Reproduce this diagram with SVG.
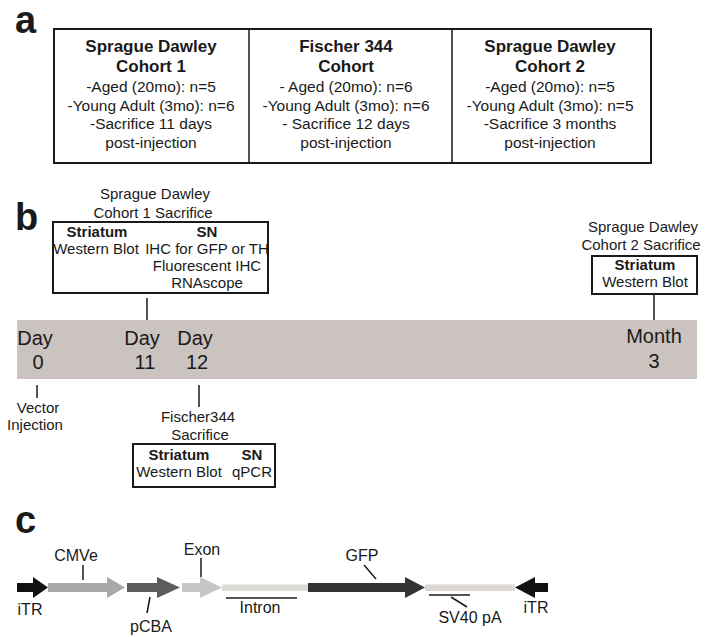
<svg xmlns="http://www.w3.org/2000/svg" width="705" height="637" viewBox="0 0 705 637">
<style>
text{font-family:"Liberation Sans",Arial,sans-serif;fill:#1a1a1a}
.pl{font-size:38px;font-weight:bold}
.h{font-size:17px;font-weight:bold;text-anchor:middle}
.t{font-size:15.5px;text-anchor:middle}
.s{font-size:15px;text-anchor:middle}
.sb{font-size:15px;font-weight:bold;text-anchor:middle}
.d{font-size:20px;text-anchor:middle}
.c{font-size:16px;text-anchor:middle}
.box{fill:#fff;stroke:#1a1a1a;stroke-width:2}
.ln{stroke:#1a1a1a;stroke-width:1.5;fill:none}
</style>
<rect width="705" height="637" fill="#fff"/>

<!-- Panel a -->
<text class="pl" x="15" y="33">a</text>
<g id="cohort-table">
<rect class="box" x="54" y="29" width="597" height="134"/>
<line class="ln" x1="249" y1="29" x2="249" y2="163" stroke-width="2"/>
<line class="ln" x1="452" y1="29" x2="452" y2="163" stroke-width="2"/>
</g>
<g id="sd-cohort1">
<text class="h" x="151" y="52">Sprague Dawley</text>
<text class="h" x="151" y="72">Cohort 1</text>
<text class="t" x="151" y="92">-Aged (20mo): n=5</text>
<text class="t" x="151" y="111">-Young Adult (3mo): n=6</text>
<text class="t" x="151" y="129">-Sacrifice 11 days</text>
<text class="t" x="151" y="148">post-injection</text>
</g>
<g id="f344-cohort">
<text class="h" x="346" y="52">Fischer 344</text>
<text class="h" x="346" y="72">Cohort</text>
<text class="t" x="346" y="92">- Aged (20mo): n=6</text>
<text class="t" x="346" y="111">-Young Adult (3mo): n=6</text>
<text class="t" x="346" y="129">- Sacrifice 12 days</text>
<text class="t" x="346" y="148">post-injection</text>
</g>
<g id="sd-cohort2">
<text class="h" x="550" y="52">Sprague Dawley</text>
<text class="h" x="550" y="72">Cohort 2</text>
<text class="t" x="550" y="92">-Aged (20mo): n=5</text>
<text class="t" x="550" y="111">-Young Adult (3mo): n=5</text>
<text class="t" x="550" y="129">-Sacrifice 3 months</text>
<text class="t" x="550" y="148">post-injection</text>
</g>

<!-- Panel b -->
<text class="pl" x="15" y="230">b</text>
<g id="timeline">
<rect x="17" y="320" width="680" height="59" fill="#cbc3bf"/>
<text class="d" x="35" y="345">Day</text>
<text class="d" x="38" y="369">0</text>
<text class="d" x="142" y="345">Day</text>
<text class="d" x="145" y="369">11</text>
<text class="d" x="195" y="345">Day</text>
<text class="d" x="197" y="369">12</text>
<text class="d" x="654" y="343">Month</text>
<text class="d" x="654" y="368">3</text>
</g>
<g id="sd1-sacrifice">
<text class="s" x="155" y="199">Sprague Dawley</text>
<text class="s" x="153" y="218">Cohort 1 Sacrifice</text>
<rect class="box" x="53" y="222" width="215" height="71"/>
<text class="sb" x="97" y="237">Striatum</text>
<text class="sb" x="207" y="237">SN</text>
<text class="s" x="96" y="254">Western Blot</text>
<text class="s" x="207" y="254">IHC for GFP or TH</text>
<text class="s" x="207" y="271">Fluorescent IHC</text>
<text class="s" x="207" y="288">RNAscope</text>
</g>
<g id="sd2-sacrifice">
<text class="s" x="643" y="232">Sprague Dawley</text>
<text class="s" x="641" y="250">Cohort 2 Sacrifice</text>
<rect class="box" x="592" y="256" width="105" height="38"/>
<text class="sb" x="645" y="270">Striatum</text>
<text class="s" x="645" y="287">Western Blot</text>
</g>
<g id="vector-injection">
<text class="s" x="38" y="413">Vector</text>
<text class="s" x="35" y="430">Injection</text>
</g>
<g id="f344-sacrifice">
<text class="s" x="198" y="422">Fischer344</text>
<text class="s" x="200" y="440">Sacrifice</text>
<rect class="box" x="133" y="444" width="142" height="43"/>
<text class="sb" x="179" y="460">Striatum</text>
<text class="sb" x="252" y="460">SN</text>
<text class="s" x="179" y="477">Western Blot</text>
<text class="s" x="252" y="477">qPCR</text>
</g>

<!-- Panel c -->
<text class="pl" x="15" y="533">c</text>
<g id="construct">
<path d="M17,583 H33 V577 L48,587.5 L33,598 V592 H17 Z" fill="#111"/>
<path d="M48,583 H107 V577 L125,587.5 L107,598 V592 H48 Z" fill="#a9a9a9"/>
<path d="M127,583 H157 V577 L180,587.5 L157,598 V592 H127 Z" fill="#5c5c5c"/>
<path d="M182,583 H200 V577 L222,587.5 L200,598 V592 H182 Z" fill="#c6c6c6"/>
<rect x="222" y="584.5" width="86" height="6.5" fill="#dadad6"/>
<path d="M308,583 H405 V577 L425,587.5 L405,598 V592 H308 Z" fill="#333"/>
<rect x="425" y="584.5" width="90" height="6.5" fill="#dcd8d2"/>
<path d="M548,583 H535 V577 L515,587.5 L535,598 V592 H548 Z" fill="#111"/>
</g>
<g id="construct-labels">
<text class="c" x="76" y="561">CMVe</text>
<text class="c" x="30" y="615">iTR</text>
<text class="c" x="151" y="632">pCBA</text>
<text class="c" x="202" y="555">Exon</text>
<text class="c" x="260" y="613">Intron</text>
<text class="c" x="362" y="561">GFP</text>
<text class="c" x="470" y="623">SV40 pA</text>
<text class="c" x="536" y="613">iTR</text>
</g>

<g id="connectors">
<line class="ln" x1="147" y1="298" x2="147" y2="320"/>
<line class="ln" x1="654" y1="294" x2="654" y2="320"/>
<line class="ln" x1="37" y1="385" x2="37" y2="398"/>
<line class="ln" x1="199" y1="385" x2="199" y2="407"/>
<line class="ln" x1="83" y1="565" x2="83" y2="580"/>
<line class="ln" x1="150" y1="597" x2="147" y2="613"/>
<line class="ln" x1="201" y1="558" x2="201" y2="577"/>
<line class="ln" x1="226" y1="598" x2="297" y2="598"/>
<line class="ln" x1="364" y1="565" x2="376" y2="579"/>
<line class="ln" x1="429" y1="595" x2="470" y2="595"/>
<line class="ln" x1="451" y1="597" x2="467" y2="607"/>
</g>
</svg>
